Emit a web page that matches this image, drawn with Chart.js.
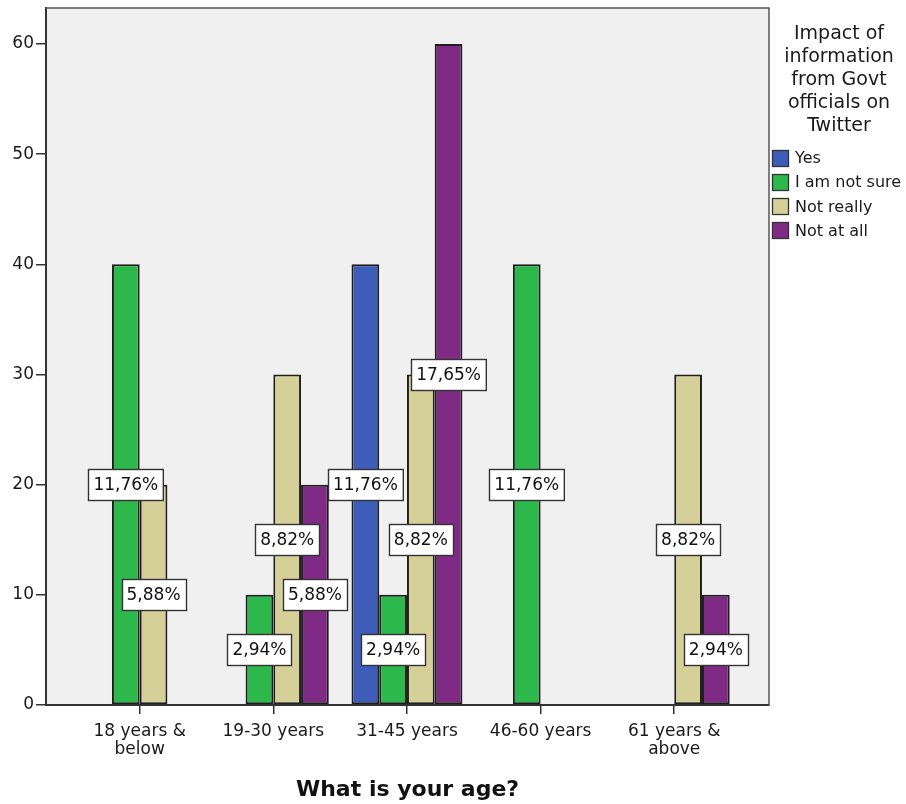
<!DOCTYPE html>
<html>
<head>
<meta charset="utf-8">
<script src="https://cdn.jsdelivr.net/npm/chart.js@4/dist/chart.umd.min.js"></script>
<style>
  html, body { margin: 0; padding: 0; background: #ffffff; }
  canvas { display: block; }
</style>
</head>
<body>
<canvas id="chart" width="906" height="804"></canvas>
<script>
// Age groups (x categories), drawn as multi-line tick labels
const ageGroups = [['18 years &', 'below'], ['19-30 years'], ['31-45 years'], ['46-60 years'], ['61 years &', 'above']];
// Answer categories
const seriesNames = ['Yes', 'I am not sure', 'Not really', 'Not at all'];
// Counts per age group for each answer
const yesCounts       = [0, 0, 40, 0, 0];
const notSureCounts   = [40, 10, 10, 40, 0];
const notReallyCounts = [20, 30, 30, 0, 30];
const notAtAllCounts  = [0, 20, 60, 0, 10];
// Value axis tick labels
const yTicks = [0, 10, 20, 30, 40, 50, 60];
const legendTitle = ['Impact of', 'information', 'from Govt', 'officials on', 'Twitter'];
const xTitle = 'What is your age?';

const FONT = '"DejaVu Sans", "Liberation Sans", sans-serif';
const fills = ['#3E5DB9', '#2DB84B', '#D5CF98', '#7F2A84'];
const allSeries = [yesCounts, notSureCounts, notReallyCounts, notAtAllCounts];
const grandTotal = allSeries.reduce((s, arr) => s + arr.reduce((a, b) => a + b, 0), 0);

const datasets = allSeries.map((vals, k) => ({
  label: seriesNames[k],
  data: vals.map((v, i) => ({ x: i, y: v })),
  backgroundColor: fills[k],
  borderColor: '#1e1e1e',
  borderWidth: ctx => (ctx.raw && ctx.raw.y > 0 ? 2 : 0),
  borderSkipped: false,
  categoryPercentage: 0.83,
  barPercentage: 1.0
}));

// Grey plot background and frame
const plotFrame = {
  id: 'plotFrame',
  beforeDraw(chart) {
    const a = chart.chartArea, ctx = chart.ctx;
    ctx.save();
    ctx.fillStyle = '#F0F0F0';
    ctx.fillRect(a.left, a.top, a.right - a.left, a.bottom - a.top);
    ctx.restore();
  },
  afterDraw(chart) {
    const a = chart.chartArea, ctx = chart.ctx;
    ctx.save();
    ctx.strokeStyle = '#555';
    ctx.lineWidth = 1.5;
    ctx.beginPath();
    ctx.moveTo(a.left, a.top);
    ctx.lineTo(a.right, a.top);
    ctx.lineTo(a.right, a.bottom);
    ctx.stroke();
    ctx.restore();
  }
};

// Percentage-of-total boxes at mid-height of each bar
const percentBoxes = {
  id: 'percentBoxes',
  afterDatasetsDraw(chart) {
    const ctx = chart.ctx, yScale = chart.scales.y;
    ctx.save();
    ctx.font = '17px ' + FONT;
    ctx.textAlign = 'center';
    ctx.textBaseline = 'middle';
    chart.data.datasets.forEach((ds, k) => {
      const meta = chart.getDatasetMeta(k);
      meta.data.forEach((bar, i) => {
        const v = ds.data[i].y;
        if (!v) return;
        const text = (v / grandTotal * 100).toFixed(2).replace('.', ',') + '%';
        const cy = yScale.getPixelForValue(v / 2);
        const w = ctx.measureText(text).width + 10, h = 31;
        const x0 = Math.round(bar.x - w / 2) + 0.5, y0 = Math.round(cy - h / 2) + 0.5;
        ctx.fillStyle = '#ffffff';
        ctx.fillRect(x0, y0, w, h);
        ctx.strokeStyle = '#333';
        ctx.lineWidth = 1.4;
        ctx.strokeRect(x0, y0, w, h);
        ctx.fillStyle = '#111';
        ctx.fillText(text, bar.x, cy + 1);
      });
    });
    ctx.restore();
  }
};

// Legend with multi-line title on the right
const sideLegend = {
  id: 'sideLegend',
  afterDraw(chart) {
    const ctx = chart.ctx;
    ctx.save();
    ctx.fillStyle = '#1a1a1a';
    ctx.font = '19px ' + FONT;
    ctx.textAlign = 'center';
    ctx.textBaseline = 'middle';
    legendTitle.forEach((t, i) => ctx.fillText(t, 839, 34 + i * 23));
    ctx.font = '16px ' + FONT;
    ctx.textAlign = 'left';
    chart.data.datasets.forEach((ds, i) => {
      const y = 158 + i * 24.3;
      ctx.fillStyle = ds.backgroundColor;
      ctx.fillRect(772, Math.round(y - 8.5), 17, 17);
      ctx.strokeStyle = '#333';
      ctx.lineWidth = 1.3;
      ctx.strokeRect(772.5, Math.round(y - 8.5) + 0.5, 16, 16);
      ctx.fillStyle = '#1a1a1a';
      ctx.fillText(ds.label, 795, y + 1);
    });
    ctx.restore();
  }
};

new Chart(document.getElementById('chart'), {
  type: 'bar',
  data: { datasets },
  plugins: [plotFrame, percentBoxes, sideLegend],
  options: {
    responsive: false,
    animation: false,
    layout: { padding: { top: 8, right: 137, left: 0, bottom: 0 } },
    plugins: { legend: { display: false }, tooltip: { enabled: false } },
    scales: {
      x: {
        type: 'linear',
        min: -0.701,
        max: 4.709,
        offset: false,
        afterBuildTicks: s => { s.ticks = ageGroups.map((g, i) => ({ value: i })); },
        afterFit: s => { s.height = 99; s.paddingLeft = 0; s.paddingRight = 0; },
        ticks: {
          autoSkip: false,
          maxRotation: 0,
          padding: 9,
          color: '#1a1a1a',
          font: { family: FONT, size: 17, lineHeight: 1.06 },
          callback: v => ageGroups[v]
        },
        grid: { offset: false, drawOnChartArea: false, drawTicks: true, tickLength: 9, color: '#333', lineWidth: 1.5 },
        border: { display: true, color: '#333', width: 2 },
        title: {
          display: true,
          text: xTitle,
          color: '#111',
          font: { family: FONT, size: 22, weight: 'bold' },
          padding: { top: 0, bottom: 1 }
        }
      },
      y: {
        min: 0,
        max: 63.27,
        afterBuildTicks: s => { s.ticks = yTicks.map(v => ({ value: v })); },
        afterFit: s => { s.width = 46; s.paddingTop = 0; s.paddingBottom = 0; },
        ticks: {
          padding: 2,
          color: '#1a1a1a',
          font: { family: FONT, size: 17 }
        },
        grid: { drawOnChartArea: false, drawTicks: true, tickLength: 10, color: '#333', lineWidth: 1.5 },
        border: { display: true, color: '#333', width: 2 }
      }
    }
  }
});
</script>
</body>
</html>
